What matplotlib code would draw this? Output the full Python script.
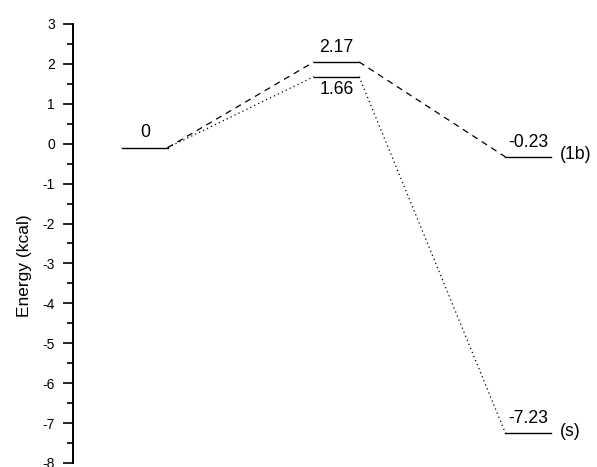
import matplotlib.pyplot as plt
from matplotlib.ticker import MultipleLocator

plt.rcParams['font.family'] = ['Liberation Sans', 'DejaVu Sans']
plt.rcParams['axes.unicode_minus'] = False

# energy levels: column position, drawn level, printed value
pos = [1, 2, 2, 3, 3]
level = [-0.1, 2.05, 1.68, -0.33, -7.25]
label = ['0', '2.17', '1.66', '-0.23', '-7.23']
tag = ['', '', '', '(1b)', '(s)']
label_below = [False, False, True, False, False]

# pathways (indices into the levels above)
path_dash = [0, 1, 3]
path_dot = [0, 2, 4]

half = 0.118

fig = plt.figure(figsize=(5.97, 4.67), dpi=100)
ax = fig.add_axes([73 / 597, 4 / 467, 1 - 73 / 597, 439 / 467])

for p, y, lab, t, below in zip(pos, level, label, tag, label_below):
    ax.plot([p - half, p + half], [y, y], color='black', lw=1.0)
    if below:
        ax.text(p, y - 0.12, lab, ha='center', va='top', fontsize=12.7)
    else:
        ax.text(p, y + 0.16, lab, ha='center', va='bottom', fontsize=12.7)
    if t:
        ax.text(p + half + 0.05, y + 0.05, t, ha='left', va='center', fontsize=12.7)

def draw_path(idx, ls):
    # connectors: right end of one level to left end of the next
    for a, b in zip(idx[:-1], idx[1:]):
        ax.plot([pos[a] + half, pos[b] - half], [level[a], level[b]],
                color='black', lw=0.9, linestyle=ls)

draw_path(path_dash, (0, (5, 4)))
draw_path(path_dot, (0, (1, 2.5)))

ax.set_xlim(1 - 72 / 191.5, 1 + 524 / 191.5 - 72 / 191.5)
ax.set_ylim(-8, 3)
ax.yaxis.set_major_locator(MultipleLocator(1))
ax.yaxis.set_minor_locator(MultipleLocator(0.5))
ax.tick_params(axis='y', which='major', length=7.5, width=1.2, labelsize=10, pad=5.5)
ax.tick_params(axis='y', which='minor', length=4, width=1.2)
for s in ['top', 'right', 'bottom']:
    ax.spines[s].set_visible(False)
ax.spines['left'].set_linewidth(1.4)
ax.set_xticks([])
ax.set_ylabel('Energy (kcal)', fontsize=12.5)
ax.yaxis.set_label_coords((32 - 73) / 524, 0.45)

fig.savefig('out.png', dpi=100)
